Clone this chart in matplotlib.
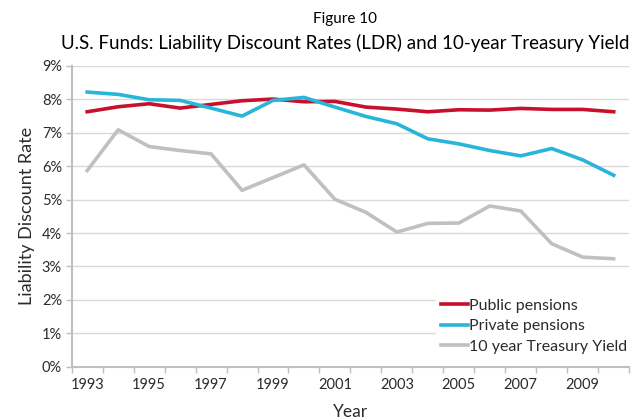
import numpy as np
import matplotlib
matplotlib.use('Agg')
import matplotlib.pyplot as plt
from matplotlib.ticker import FuncFormatter, MultipleLocator

years = list(range(1993, 2011))
public_pensions = [7.63, 7.78, 7.87, 7.74, 7.85, 7.96, 8.01, 7.93, 7.94, 7.77,
                   7.71, 7.63, 7.69, 7.68, 7.73, 7.70, 7.70, 7.63]
private_pensions = [8.22, 8.15, 7.99, 7.97, 7.74, 7.50, 7.97, 8.06, 7.77, 7.49,
                    7.27, 6.82, 6.67, 6.47, 6.31, 6.53, 6.19, 5.73]
treasury_yield = [5.87, 7.09, 6.59, 6.47, 6.37, 5.28, 5.66, 6.04, 5.01, 4.62,
                  4.03, 4.29, 4.30, 4.81, 4.66, 3.68, 3.28, 3.23]
year_labels = [str(y) for y in years[::2]]

plt.rcParams['font.family'] = ['Lato', 'DejaVu Sans']
txt = '#2b2b2b'
axis_grey = '#bfbfbf'

fig = plt.figure(figsize=(6.42, 4.19), dpi=100)
ax = fig.add_axes([0.1117, 0.1248, 0.8683, 0.7177])

ax.plot(years, public_pensions, color='#c8102e', lw=2.6, label='Public pensions', zorder=3)
ax.plot(years, private_pensions, color='#29b5d9', lw=2.6, label='Private pensions', zorder=3)
ax.plot(years, treasury_yield, color='#c0c0c2', lw=2.6, label='10 year Treasury Yield', zorder=3)

ax.set_xlim(years[0] - 0.5, years[-1] + 0.5)
ax.set_ylim(0, 9)
ax.yaxis.set_major_locator(MultipleLocator(1))
ax.yaxis.set_major_formatter(FuncFormatter(lambda v, p: f'{v:.0f}%'))

# category style x axis: ticks between years, labels on every other year
ax.set_xticks(np.arange(years[0] - 0.5, years[-1] + 1))
ax.set_xticklabels([])
ax.set_xticks(years[::2], minor=True)
ax.set_xticklabels(year_labels, minor=True)
ax.tick_params(axis='x', which='minor', length=0, pad=8, labelsize=10.5, labelcolor=txt)
ax.tick_params(axis='x', which='major', length=4, width=1, color=axis_grey)
ax.tick_params(axis='y', length=4, width=1, color=axis_grey, labelsize=10.5,
               labelcolor=txt, pad=3)

ax.grid(axis='y', color='#d9d9d9', lw=1, zorder=0)
for s in ['top', 'right']:
    ax.spines[s].set_visible(False)
for s in ['left', 'bottom']:
    ax.spines[s].set_color(axis_grey)
    ax.spines[s].set_linewidth(1.5)

ax.set_xlabel('Year', fontsize=12.5, color=txt, labelpad=9)
ax.set_ylabel('Liability Discount Rate', fontsize=13, color=txt, labelpad=5)

fig.text(0.537, 0.955, 'Figure 10', ha='center', va='center', fontsize=11, color='black')
fig.text(0.537, 0.898, 'U.S. Funds: Liability Discount Rates (LDR) and 10-year Treasury Yield',
         ha='center', va='center', fontsize=13.5, color='black')

leg = ax.legend(loc='lower right', bbox_to_anchor=(1.02, 0.0), fontsize=11.5,
                frameon=True, fancybox=False, edgecolor='none', facecolor='white',
                framealpha=1, handlelength=1.7, handletextpad=0.1,
                labelspacing=0.4, borderpad=0.3)
for t in leg.get_texts():
    t.set_color(txt)

fig.savefig('out.png', dpi=100)
